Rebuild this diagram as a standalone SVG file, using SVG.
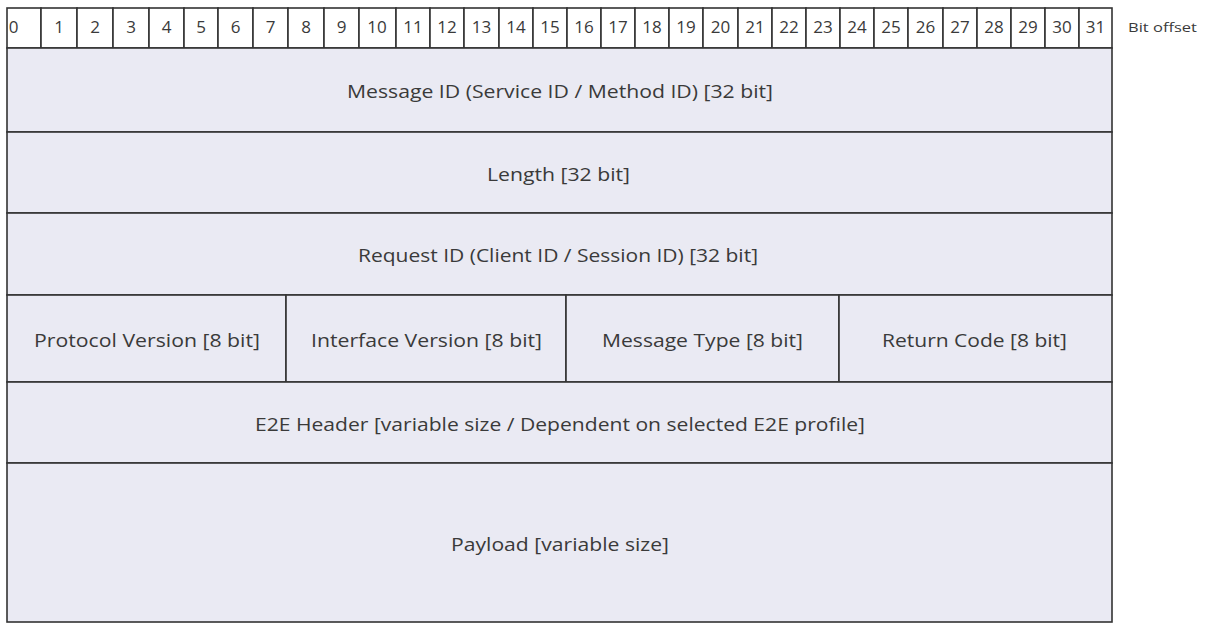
<svg xmlns="http://www.w3.org/2000/svg" width="1206" height="632" viewBox="0 0 1206 632">
  <style>
    .bit rect { fill: #ffffff; stroke: #333333; stroke-width: 1.6; }
    .field rect { fill: #eaeaf3; stroke: #333333; stroke-width: 1.6; }
    .num { font-family: "Open Sans", "Liberation Sans", sans-serif; font-size: 17px; fill: #3a3a3a; text-anchor: middle; }
    .lbl { font-family: "Open Sans", "Liberation Sans", sans-serif; font-size: 18px; fill: #3a3a3a; text-anchor: middle; }
    .note { font-family: "Open Sans", "Liberation Sans", sans-serif; font-size: 12.5px; fill: #3a3a3a; }
  </style>
  <rect width="1206" height="632" fill="#ffffff"/>

  <!-- bit offset ruler -->
  <g id="bit-ruler">
    <g class="bit" id="bit-0"><rect x="7" y="8" width="34" height="40"/><text class="num" x="13.5" y="33">0</text></g>
    <g class="bit" id="bit-1"><rect x="41" y="8" width="36" height="40"/><text class="num" x="59" y="33">1</text></g>
    <g class="bit" id="bit-2"><rect x="77" y="8" width="36" height="40"/><text class="num" x="95" y="33">2</text></g>
    <g class="bit" id="bit-3"><rect x="113" y="8" width="36" height="40"/><text class="num" x="131" y="33">3</text></g>
    <g class="bit" id="bit-4"><rect x="149" y="8" width="35" height="40"/><text class="num" x="166.5" y="33">4</text></g>
    <g class="bit" id="bit-5"><rect x="184" y="8" width="34" height="40"/><text class="num" x="201" y="33">5</text></g>
    <g class="bit" id="bit-6"><rect x="218" y="8" width="35" height="40"/><text class="num" x="235.5" y="33">6</text></g>
    <g class="bit" id="bit-7"><rect x="253" y="8" width="35" height="40"/><text class="num" x="270.5" y="33">7</text></g>
    <g class="bit" id="bit-8"><rect x="288" y="8" width="36" height="40"/><text class="num" x="306" y="33">8</text></g>
    <g class="bit" id="bit-9"><rect x="324" y="8" width="35" height="40"/><text class="num" x="341.5" y="33">9</text></g>
    <g class="bit" id="bit-10"><rect x="359" y="8" width="37" height="40"/><text class="num" x="377" y="33">10</text></g>
    <g class="bit" id="bit-11"><rect x="396" y="8" width="34" height="40"/><text class="num" x="413" y="33">11</text></g>
    <g class="bit" id="bit-12"><rect x="430" y="8" width="34" height="40"/><text class="num" x="447" y="33">12</text></g>
    <g class="bit" id="bit-13"><rect x="464" y="8" width="35" height="40"/><text class="num" x="481.5" y="33">13</text></g>
    <g class="bit" id="bit-14"><rect x="499" y="8" width="34" height="40"/><text class="num" x="516" y="33">14</text></g>
    <g class="bit" id="bit-15"><rect x="533" y="8" width="34" height="40"/><text class="num" x="550" y="33">15</text></g>
    <g class="bit" id="bit-16"><rect x="567" y="8" width="34" height="40"/><text class="num" x="584" y="33">16</text></g>
    <g class="bit" id="bit-17"><rect x="601" y="8" width="34" height="40"/><text class="num" x="618" y="33">17</text></g>
    <g class="bit" id="bit-18"><rect x="635" y="8" width="34" height="40"/><text class="num" x="652" y="33">18</text></g>
    <g class="bit" id="bit-19"><rect x="669" y="8" width="34" height="40"/><text class="num" x="686" y="33">19</text></g>
    <g class="bit" id="bit-20"><rect x="703" y="8" width="35" height="40"/><text class="num" x="720.5" y="33">20</text></g>
    <g class="bit" id="bit-21"><rect x="738" y="8" width="34" height="40"/><text class="num" x="755" y="33">21</text></g>
    <g class="bit" id="bit-22"><rect x="772" y="8" width="34" height="40"/><text class="num" x="789" y="33">22</text></g>
    <g class="bit" id="bit-23"><rect x="806" y="8" width="34" height="40"/><text class="num" x="823" y="33">23</text></g>
    <g class="bit" id="bit-24"><rect x="840" y="8" width="34" height="40"/><text class="num" x="857" y="33">24</text></g>
    <g class="bit" id="bit-25"><rect x="874" y="8" width="34" height="40"/><text class="num" x="891" y="33">25</text></g>
    <g class="bit" id="bit-26"><rect x="908" y="8" width="35" height="40"/><text class="num" x="925.5" y="33">26</text></g>
    <g class="bit" id="bit-27"><rect x="943" y="8" width="34" height="40"/><text class="num" x="960" y="33">27</text></g>
    <g class="bit" id="bit-28"><rect x="977" y="8" width="34" height="40"/><text class="num" x="994" y="33">28</text></g>
    <g class="bit" id="bit-29"><rect x="1011" y="8" width="34" height="40"/><text class="num" x="1028" y="33">29</text></g>
    <g class="bit" id="bit-30"><rect x="1045" y="8" width="34" height="40"/><text class="num" x="1062" y="33">30</text></g>
    <g class="bit" id="bit-31"><rect x="1079" y="8" width="33" height="40"/><text class="num" x="1095.5" y="33">31</text></g>
    <text class="note" id="bit-offset-label" x="1128" y="32" textLength="69" lengthAdjust="spacingAndGlyphs">Bit offset</text>
  </g>

  <!-- header fields -->
  <g class="field" id="message-id"><rect x="7" y="48" width="1105" height="84"/><text class="lbl" x="560" y="98" textLength="426" lengthAdjust="spacingAndGlyphs">Message ID (Service ID / Method ID) [32 bit]</text></g>
  <g class="field" id="length"><rect x="7" y="132" width="1105" height="81"/><text class="lbl" x="558.5" y="181" textLength="143" lengthAdjust="spacingAndGlyphs">Length [32 bit]</text></g>
  <g class="field" id="request-id"><rect x="7" y="213" width="1105" height="82"/><text class="lbl" x="558" y="262" textLength="400" lengthAdjust="spacingAndGlyphs">Request ID (Client ID / Session ID) [32 bit]</text></g>
  <g class="field" id="protocol-version"><rect x="7" y="295" width="279" height="87"/><text class="lbl" x="147" y="347" textLength="226" lengthAdjust="spacingAndGlyphs">Protocol Version [8 bit]</text></g>
  <g class="field" id="interface-version"><rect x="286" y="295" width="280" height="87"/><text class="lbl" x="426.5" y="347" textLength="231" lengthAdjust="spacingAndGlyphs">Interface Version [8 bit]</text></g>
  <g class="field" id="message-type"><rect x="566" y="295" width="273" height="87"/><text class="lbl" x="702.5" y="347" textLength="201" lengthAdjust="spacingAndGlyphs">Message Type [8 bit]</text></g>
  <g class="field" id="return-code"><rect x="839" y="295" width="273" height="87"/><text class="lbl" x="974.5" y="347" textLength="185" lengthAdjust="spacingAndGlyphs">Return Code [8 bit]</text></g>
  <g class="field" id="e2e-header"><rect x="7" y="382" width="1105" height="81"/><text class="lbl" x="560" y="431" textLength="610" lengthAdjust="spacingAndGlyphs">E2E Header [variable size / Dependent on selected E2E profile]</text></g>
  <g class="field" id="payload"><rect x="7" y="463" width="1105" height="159"/><text class="lbl" x="560" y="551" textLength="218" lengthAdjust="spacingAndGlyphs">Payload [variable size]</text></g>

  <!-- no connectors in this layout -->
  <g id="connectors"/>
</svg>
